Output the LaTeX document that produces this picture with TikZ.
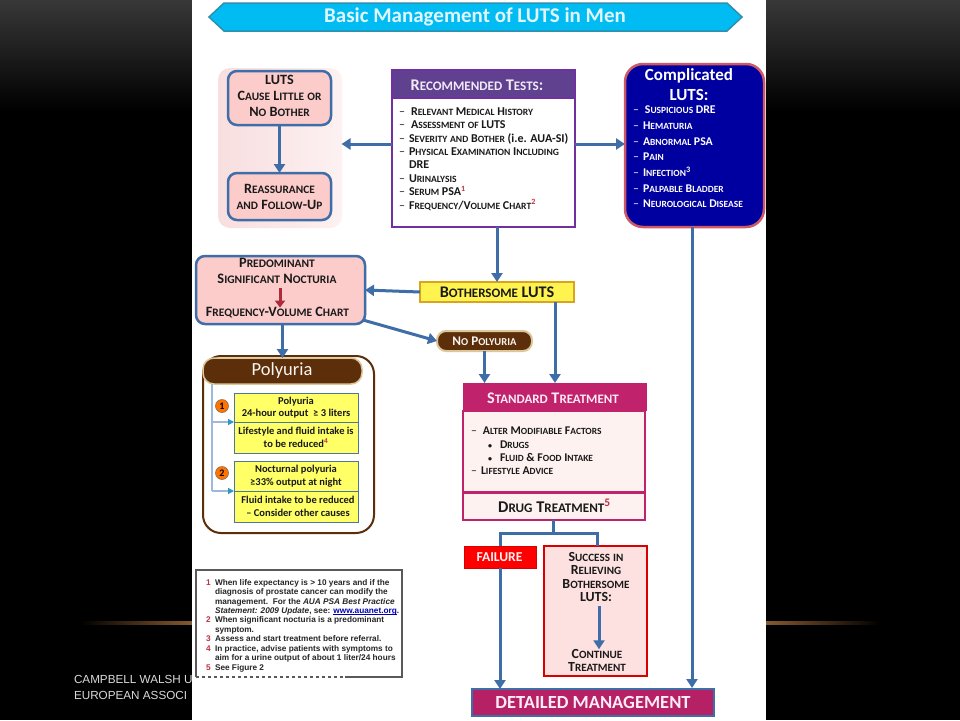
\documentclass[tikz,border=0pt]{standalone}
\usepackage{fontspec}
\usepackage{xcolor}
\setmainfont{Carlito}
\newfontfamily\notefont{Liberation Sans}
\usetikzlibrary{arrows.meta,shapes.geometric}
\definecolor{flow}{HTML}{3E6DA8}
\definecolor{purp}{HTML}{7030A0}
\definecolor{purphead}{HTML}{60418F}
\definecolor{pinkbox}{HTML}{FCCCCB}
\definecolor{softpink}{HTML}{F8DEDF}
\definecolor{softpinkb}{HTML}{FDF1F1}
\definecolor{brownd}{HTML}{5C2E0A}
\definecolor{beige}{HTML}{DCC79A}
\definecolor{magenta1}{HTML}{C0236B}
\definecolor{creamp}{HTML}{FDF2F0}
\definecolor{supred}{HTML}{C03040}
\definecolor{ybox}{HTML}{FFFF66}
\definecolor{ybright}{HTML}{FFF34F}
\definecolor{ygold}{HTML}{D9A520}
\definecolor{lblue}{HTML}{9DB8DC}
\definecolor{navyb}{HTML}{0000A0}
\definecolor{bannerc}{HTML}{00BCF2}
\definecolor{bannerl}{HTML}{2E8FAE}
\makeatletter
\ExplSyntaxOn
\NewDocumentCommand\SCsmall{m}{{\fontsize{\fp_eval:n{\f@size*0.8}}{\baselineskip}\selectfont\uppercase{#1}}}
\NewDocumentCommand\SC{m}{
  \tl_set:Nn \l_tmpa_tl {#1}
  \regex_replace_all:nnN {([a-z]+)} {\c{SCsmall}\cB\{\1\cE\}} \l_tmpa_tl
  \tl_use:N \l_tmpa_tl
}
\ExplSyntaxOff
\makeatother
\newcommand{\sups}[1]{\textsuperscript{\color{supred}#1}}
\newcommand{\dl}[1]{\makebox[10pt][l]{\mdseries –}#1}
\newcommand{\fs}[2]{\fontsize{#1}{#2}\selectfont}
\newcommand{\indd}{\hspace*{10pt}}
\newcommand{\bul}{\hspace*{17pt}\makebox[12pt][l]{\footnotesize •}}
\newcommand{\iedot}{i.e.}
\newcommand{\urlline}[1]{\setbox0\hbox{#1}\rlap{\rule[-1pt]{\wd0}{.5pt}}\box0}
\tikzset{
  x=1pt,y=-1pt,
  base/.style={inner sep=0pt,outer sep=0pt},
  flowline/.style={draw=flow,line width=3pt},
  flowarrow/.style={flowline,-{Triangle[length=9pt,width=11pt]}},
  thinarrow/.style={draw=lblue,line width=1.2pt,-{Triangle[length=6pt,width=6pt,fill=flow!70!cyan,color=flow!70!cyan]}},
  sctext/.style={base,align=center,text=black!90},
  listtext/.style={base,align=left,anchor=west,text=black!90},
  ybx/.style={base,draw=flow!70!gray,line width=1pt,fill=ybox,minimum width=124pt},
  ytext/.style={base,align=center,text=black!90,font=\fs{10.5}{12.5}\bfseries},
  circ/.style={base,circle,draw=brownd!70,line width=.6pt,fill=orange!90!red,minimum size=13pt,font=\fs{10}{10}\bfseries},
}
\begin{document}
\begin{tikzpicture}
\useasboundingbox (0,0) rectangle (960,720);
% slide background
\fill[black] (0,0) rectangle (960,720);
\shade[top color=black!78,bottom color=black] (0,0) rectangle (960,110);
\shade[left color=black,right color=brown!70!black] (80,621.5) rectangle (192,624.5);
\shade[left color=brown!70!black,right color=black] (766,621.5) rectangle (880,624.5);
\node[base,anchor=west,text=white!85!black,font=\notefont\fs{11.7}{16},align=left] (src) at (74,687) {CAMPBELL WALSH U\\EUROPEAN ASSOCI};
\fill[white] (192,0) rectangle (766,720);
% title
\draw[fill=bannerc,draw=bannerl,line width=1.5pt] (224,3) -- (727,3) -- (742,17) -- (727,31) -- (224,31) -- (209,17) -- cycle;
\node[base,text=white!88!cyan,font=\fs{21}{21}\bfseries] (title) at (475,17) {Basic Management of LUTS in Men};
% left group
\node[base,rounded corners=12pt,left color=softpink,right color=softpinkb,minimum width=124pt,minimum height=160pt] (panel) at (280,148) {};
\node[base,rounded corners=9pt,draw=flow,line width=2.5pt,fill=pinkbox,minimum width=103pt,minimum height=54pt] (luts) at (279.5,98) {};
\node[sctext,font=\fs{14.2}{16}\bfseries] (lutst) at (279.5,96) {\SC{LUTS\\Cause Little or\\No Bother}};
\node[base,rounded corners=9pt,draw=flow,line width=2.5pt,fill=pinkbox,minimum width=103pt,minimum height=47pt] (reass) at (279.5,196.5) {};
\node[sctext,font=\fs{14.2}{16}\bfseries] (reasst) at (279.5,197) {\SC{Reassurance\\and Follow-Up}};
\draw[flowarrow] (luts) -- (reass);
% tests
\node[base,draw=purp,line width=2.5pt,fill=white,minimum width=183pt,minimum height=157pt] (tests) at (483.5,148.5) {};
\node[base,draw=purp,line width=2pt,fill=purphead,minimum width=183pt,minimum height=28pt] (testsh) at (483.5,84) {};
\node[sctext,text=white!90!purp,font=\fs{16.3}{17}\bfseries] (testst) at (477,85) {\SC{Recommended Tests:}};
\node[listtext,font=\fs{12}{13.4}\bfseries] (testl) at (399,159) {\SC{\dl{\,Relevant Medical History}\\\dl{\,Assessment of LUTS}\\\dl{Severity and Bother (\iedot{} AUA-SI)}\\\dl{Physical Examination Including}\\\indd DRE\\\dl{Urinalysis}\\\dl{Serum PSA\sups{1}}\\\dl{Frequency/Volume Chart\sups{2}}}};
% complicated
\node[base,rounded corners=18pt,draw=supred!80!white,line width=2.5pt,fill=navyb,minimum width=139pt,minimum height=163pt] (comp) at (694.5,145.5) {};
\node[base,align=center,text=white,font=\fs{17}{19.5}\bfseries] (compt) at (689,84.5) {Complicated\\LUTS:};
\node[listtext,text=white,font=\fs{11.8}{15.7}\bfseries] (compl) at (633,157) {\SC{\dl{\,Suspicious DRE}\\\dl{Hematuria}\\\dl{Abnormal PSA}\\\dl{Pain}\\\dl{Infection\textsuperscript{3}}\\\dl{Palpable Bladder}\\\dl{Neurological Disease}}};
\draw[flowarrow] ([yshift=4.5pt]tests.west) -- ([yshift=4pt,xshift=-.5pt]panel.east);
\draw[flowarrow] ([yshift=4.5pt]tests.east) -- ([yshift=1.5pt]comp.west);
% bothersome
\node[base,draw=ygold,line width=2pt,fill=ybright,minimum width=154pt,minimum height=20pt] (both) at (497,292) {};
\node[sctext,font=\fs{16.2}{16}\bfseries] (botht) at (497,292) {\SC{Bothersome LUTS}};
\draw[flowarrow] (tests.south -| both) -- (both);
% predominant
\node[base,rounded corners=9pt,draw=flow,line width=2.5pt,fill=pinkbox,minimum width=169pt,minimum height=68pt] (pred) at (280.5,290) {};
\node[sctext,font=\fs{14.4}{16}\bfseries] (predt) at (277,271) {\SC{Predominant\\Significant Nocturia}};
\node[sctext,font=\fs{14.3}{14}\bfseries] (predc) at (277.5,313) {\SC{Frequency-Volume Chart}};
\coordinate (predm) at (280,288);
\draw[draw=supred!90!black,line width=3pt,-{Triangle[length=7pt,width=10pt]}] (predm) -- (predm |- predc.north);
\draw[flowarrow] (both.west) -- (pred.east);
% no polyuria
\node[base,rounded corners=9pt,draw=beige,line width=2pt,fill=brownd,minimum width=95pt,minimum height=20pt] (nopol) at (484.5,341) {};
\node[sctext,text=white!92!brown,font=\fs{13.2}{13}\bfseries] (nopolt) at (484.5,341) {\SC{No Polyuria}};
\draw[flowarrow] ([xshift=-2pt,yshift=4pt]pred.south east) -- (nopol.west);
% standard treatment
\node[base,draw=magenta1,line width=2pt,fill=creamp,minimum width=182pt,minimum height=81pt] (std) at (554,451.5) {};
\node[base,fill=magenta1,minimum width=184pt,minimum height=28pt] (stdh) at (555,397) {};
\node[sctext,text=white!92!magenta,font=\fs{16.2}{16}\bfseries] (stdt) at (553,398) {\SC{Standard Treatment}};
\node[listtext,font=\fs{11.8}{13.3}\bfseries] (stdl) at (471,451) {\SC{\dl{\,Alter Modifiable Factors}\\\bul Drugs\\\bul Fluid \& Food Intake\\\dl{Lifestyle Advice}}};
\node[base,draw=magenta1,line width=2pt,fill=creamp,minimum width=182pt,minimum height=27pt] (drug) at (554,506.5) {};
\node[sctext,font=\fs{16.4}{16}\bfseries] (drugt) at (554.5,506) {\SC{Drug Treatment\sups{5}}};
\draw[flowarrow] (nopol.south) -- (nopol.south |- stdh.north);
\draw[flowarrow] (both.south -| stdh.north) -- (stdh.north);
% polyuria
\node[base,rounded corners=18pt,draw=brownd,line width=2pt,fill=white,minimum width=171pt,minimum height=177pt] (polp) at (288.5,444.5) {};
\node[base,rounded corners=11pt,draw=beige,line width=1.5pt,fill=brownd,minimum width=159pt,minimum height=26pt] (polh) at (282.5,371) {};
\node[base,text=white!92!brown,font=\fs{18.5}{18}] (polt) at (282,371) {Polyuria};
\draw[flowarrow] (pred.south -| polh) -- (polh.north);
\node[ybx,minimum height=29pt] (y1) at (296,407.5) {};
\node[ybx,minimum height=31pt] (y2) at (296,437.5) {};
\node[ybx,minimum height=30pt] (y3) at (296,476) {};
\node[ybx,minimum height=31pt] (y4) at (296,506.5) {};
\node[ytext] (y1t) at (296,407.5) {Polyuria\\24-hour output\ \ ≥ 3 liters};
\node[ytext] (y2t) at (296,437.5) {Lifestyle and fluid intake is\\to be reduced\sups{4}};
\node[ytext] (y3t) at (296,476) {Nocturnal polyuria\\≥33\% output at night};
\node[ytext] (y4t) at (298,506.5) {Fluid intake to be reduced\\– Consider other causes};
\coordinate (trunk) at (212,384);
\draw[draw=lblue,line width=1.2pt] (trunk) -- (trunk |- y3.south);
\draw[thinarrow] (trunk |- y1.south) -- (y1.south west);
\draw[thinarrow] (trunk |- y3.south) -- (y3.south west);
\node[circ] (c1) at (222,406) {1};
\node[circ] (c2) at (222,473) {2};
% bottom branch
\node[base,fill=red,draw=red!85!black,line width=.8pt,minimum width=72pt,minimum height=22pt] (fail) at (500,557) {};
\node[base,text=white!95!red,font=\fs{13.6}{14}\bfseries] (failt) at (499.5,557) {FAILURE};
\node[base,draw=red!85!black,line width=2pt,fill=pinkbox!60!white,minimum width=103pt,minimum height=130pt] (succ) at (595.5,611) {};
\node[sctext,font=\fs{13.9}{13.4}\bfseries] (succt) at (596,577) {\SC{Success in\\Relieving\\Bothersome\\LUTS:}};
\node[sctext,font=\fs{13.9}{13.4}\bfseries] (contt) at (597,660.5) {\SC{Continue\\Treatment}};
\coordinate (sarrow) at (599,606);
\draw[flowarrow] (sarrow) -- (sarrow |- contt.north);
\coordinate (split) at (553,533);
\draw[flowline,line cap=butt] (drug.south -| split) -- (split);
\draw[flowline] (fail.north) |- (split) -| ([xshift=1.5pt]succ.north);
\node[base,draw=flow,line width=2pt,fill=magenta1!95!black,minimum width=242pt,minimum height=27pt] (det) at (593,702.5) {};
\node[base,text=white!92!magenta,font=\fs{18.5}{18}\bfseries] (dett) at (593,702.5) {DETAILED MANAGEMENT};
\draw[flowarrow] (fail.south) -- (fail.south |- det.north);
\coordinate (compd) at (692,688);
\draw[flowarrow] (comp.south -| compd) -- (compd);
% footnotes
\draw[draw=black!65,line width=1.2pt] (345,677) -- (402,677) -- (402,570) -- (196,570) -- (196,677);
\draw[draw=black!65,line width=1.2pt,dashed] (196,677) -- (345,677);
\node[base,anchor=west,align=left,text=black!85,font=\notefont\fs{8.25}{9.45}\bfseries] (note) at (206,625.5) {\makebox[9pt][l]{\color{supred}1}When life expectancy is > 10 years and if the\\\hspace*{9pt}diagnosis of prostate cancer can modify the\\\hspace*{9pt}management.\ \ For the \textit{AUA PSA Best Practice}\\\hspace*{9pt}\textit{Statement: 2009 Update}, see: {\color{blue!70!black}\urlline{www.auanet.org}}.\\\makebox[9pt][l]{\color{supred}2}When significant nocturia is a predominant\\\hspace*{9pt}symptom.\\\makebox[9pt][l]{\color{supred}3}Assess and start treatment before referral.\\\makebox[9pt][l]{\color{supred}4}In practice, advise patients with symptoms to\\\hspace*{9pt}aim for a urine output of about 1 liter/24 hours\\\makebox[9pt][l]{\color{supred}5}See Figure 2};
\end{tikzpicture}
\end{document}
